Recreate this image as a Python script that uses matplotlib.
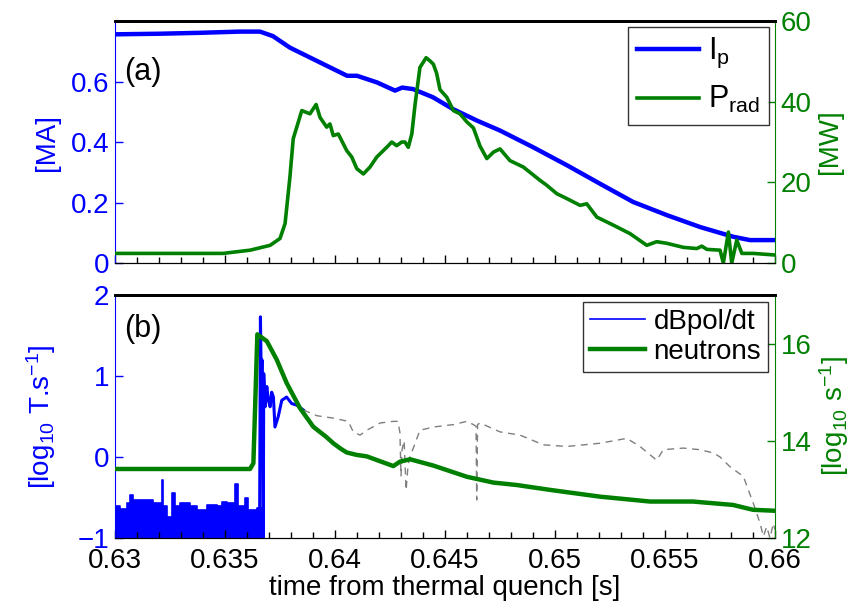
import numpy as np
import matplotlib.pyplot as plt
from matplotlib.lines import Line2D
from matplotlib.ticker import MultipleLocator

plt.rcParams['font.family'] = ['Liberation Sans', 'DejaVu Sans']
plt.rcParams['mathtext.fontset'] = 'custom'
plt.rcParams['mathtext.rm'] = 'Liberation Sans'
plt.rcParams['mathtext.default'] = 'regular'

BLUE = '#0000ff'
GREEN = '#008000'
GREY = '#7f7f7f'

# (a) plasma current [MA]
ip_t = [0.63, 0.63205, 0.63386, 0.63568, 0.63659, 0.63718, 0.63795, 0.63918,
        0.64055, 0.641, 0.64191, 0.64273, 0.64305, 0.64355, 0.64445, 0.64536,
        0.64645, 0.6475, 0.649, 0.65055, 0.65205, 0.65355, 0.6551, 0.6566,
        0.6581, 0.65886, 0.66]
ip_val = [0.756, 0.758, 0.761, 0.765, 0.765, 0.750, 0.712, 0.668,
          0.619, 0.619, 0.597, 0.570, 0.580, 0.575, 0.548, 0.509,
          0.471, 0.438, 0.383, 0.323, 0.262, 0.202, 0.158, 0.119,
          0.087, 0.076, 0.076]

# (a) radiated power [MW]
prad_t = [0.63008, 0.63491, 0.63614, 0.63705, 0.6375, 0.63773, 0.63795, 0.6381,
          0.63849, 0.63886, 0.63914, 0.63932, 0.63962, 0.63977, 0.63992, 0.64015,
          0.64053, 0.64076, 0.64099, 0.64129, 0.64159, 0.6419, 0.64235, 0.64258,
          0.6428, 0.64303, 0.64318, 0.64333, 0.64349, 0.64364, 0.64386, 0.64414,
          0.64432, 0.64447, 0.64462, 0.64477, 0.64508, 0.64538, 0.64568, 0.64599,
          0.64629, 0.64659, 0.6469, 0.6472, 0.6475, 0.64795, 0.64856, 0.64932,
          0.64962, 0.65008, 0.65053, 0.65114, 0.65144, 0.6519, 0.65265, 0.65341,
          0.65417, 0.65462, 0.65508, 0.65583, 0.65644, 0.65667, 0.6569, 0.6575,
          0.65765, 0.65788, 0.65803, 0.65826, 0.65849, 0.65901, 0.66]
prad_val = [2.4, 2.4, 3.2, 4.4, 6.1, 9.8, 21.3, 30.8,
            37.8, 37.0, 39.3, 36.1, 33.7, 34.5, 31.6, 32.0,
            27.9, 26.3, 23.4, 22.1, 23.8, 26.3, 28.7, 30.0,
            29.1, 30.0, 30.0, 28.7, 32.0, 39.4, 48.5, 50.9,
            50.1, 49.3, 47.0, 43.0, 41.1, 37.8, 37.0, 35.0,
            33.5, 29.0, 25.9, 27.5, 28.3, 25.4, 23.8, 20.5,
            19.3, 17.2, 16.0, 14.3, 14.7, 11.4, 9.4, 7.3,
            4.4, 5.3, 4.9, 3.9, 3.6, 4.2, 3.4, 3.2,
            0.0, 7.7, 0.0, 5.7, 2.4, 2.4, 2.0]

# (b) dBpol/dt pre-quench noise band (upper envelope) [log10 T/s]
noise_t = [0.63, 0.63023, 0.63053, 0.63068, 0.63083, 0.63129, 0.63174, 0.63207,
           0.63212, 0.6322, 0.63235, 0.63258, 0.63273, 0.63295, 0.63341, 0.63371,
           0.63417, 0.63462, 0.63485, 0.63508, 0.63539, 0.63545, 0.6356, 0.63591,
           0.63606, 0.63644, 0.63674]
noise_top = [-0.61, -0.64, -0.57, -0.47, -0.53, -0.53, -0.57, -0.57,
             -0.28, -0.61, -0.74, -0.45, -0.61, -0.57, -0.61, -0.65,
             -0.59, -0.61, -0.55, -0.57, -0.57, -0.33, -0.61, -0.51,
             -0.65, -0.63, -0.63]

# (b) dBpol/dt spike and oscillation
dbp_t = [0.63657, 0.63661, 0.63665, 0.63668, 0.63671, 0.63674, 0.63676, 0.63682,
         0.6369, 0.63697, 0.63705, 0.63712, 0.6372, 0.63727, 0.63742, 0.63758,
         0.6378, 0.63803, 0.63826, 0.63856]
dbp_val = [-1.0, 1.73, 0.9, 1.2, 0.75, -1.0, 1.03, 0.62,
           0.87, 0.70, 0.62, 0.80, 0.74, 0.37, 0.50, 0.70,
           0.74, 0.66, 0.64, 0.58]

# (b) dBpol/dt continuation (grey dashed)
grey_t = [0.63856, 0.63917, 0.63992, 0.6406, 0.64083, 0.64114, 0.64144, 0.64205,
          0.64265, 0.64286, 0.64295, 0.643, 0.64305, 0.64314, 0.64323, 0.64332,
          0.64341, 0.64364, 0.64386, 0.64447, 0.64538, 0.64599, 0.64629, 0.64641,
          0.64644, 0.64648, 0.64659, 0.6475, 0.64841, 0.64947, 0.65053, 0.65205,
          0.65326, 0.65386, 0.65462, 0.65492, 0.65583, 0.65659, 0.6572, 0.6575,
          0.65795, 0.65856, 0.65879, 0.65901, 0.65932, 0.65947, 0.65962, 0.65977,
          0.65992, 0.66]
grey_val = [0.58, 0.51, 0.48, 0.44, 0.31, 0.27, 0.33, 0.42,
            0.44, 0.44, 0.30, -0.24, 0.10, 0.20, -0.41, -0.10,
            0.00, 0.17, 0.33, 0.37, 0.40, 0.44, 0.40, 0.38,
            -0.53, 0.40, 0.42, 0.31, 0.27, 0.15, 0.13, 0.17,
            0.23, 0.13, -0.04, 0.09, 0.11, 0.09, 0.05, 0.00,
            -0.12, -0.24, -0.41, -0.57, -0.82, -0.98, -0.86, -1.0,
            -0.82, -0.9]

# (b) neutron rate [log10 1/s]
neut_t = [0.63008, 0.63614, 0.63629, 0.63647, 0.6369, 0.63735, 0.6378, 0.63841,
          0.63901, 0.6396, 0.63992, 0.64025, 0.64053, 0.64098, 0.64144, 0.64265,
          0.64295, 0.64341, 0.64447, 0.64599, 0.6472, 0.64826, 0.64977, 0.65205,
          0.65432, 0.65627, 0.65809, 0.659, 0.66]
neut_val = [13.42, 13.42, 13.54, 16.19, 16.05, 15.67, 15.19, 14.67,
            14.29, 14.08, 13.95, 13.84, 13.76, 13.71, 13.68, 13.48,
            13.57, 13.62, 13.49, 13.26, 13.14, 13.09, 12.99, 12.85,
            12.75, 12.75, 12.68, 12.58, 12.56]

FS = 20

fig = plt.figure(figsize=(8.55, 6.09), dpi=100)
ax1 = fig.add_axes([0.1345, 0.568, 0.772, 0.3975])
ax2 = fig.add_axes([0.1345, 0.1166, 0.772, 0.399])
ax1r = ax1.twinx()
ax2r = ax2.twinx()


def style(ax, axr, lcol, rcol):
    ax.set_xlim(0.63, 0.66)
    ax.xaxis.set_major_locator(MultipleLocator(0.005))
    ax.xaxis.set_minor_locator(MultipleLocator(0.001))
    ax.tick_params(axis='x', which='major', direction='in', length=6, width=1,
                   labelsize=FS, top=False, pad=7)
    ax.tick_params(axis='x', which='minor', direction='in', length=4, width=1, top=False)
    ax.tick_params(axis='y', direction='in', length=6, width=1, colors=lcol,
                   labelsize=FS, pad=4)
    axr.tick_params(axis='y', direction='in', length=6, width=1, colors=rcol,
                    labelsize=FS, pad=4)
    ax.spines['left'].set_color(lcol)
    ax.spines['right'].set_visible(False)
    axr.spines['left'].set_visible(False)
    axr.spines['right'].set_color(rcol)
    axr.spines['top'].set_linewidth(2)
    ax.spines['top'].set_linewidth(2)


style(ax1, ax1r, BLUE, GREEN)
style(ax2, ax2r, BLUE, GREEN)

# (a)
ax1.plot(ip_t, ip_val, color=BLUE, lw=3.2)
ax1r.plot(prad_t, prad_val, color=GREEN, lw=2.6)
ax1.set_ylim(0, 0.8)
ax1.set_yticks([0, 0.2, 0.4, 0.6])
ax1.set_yticklabels(['0', '0.2', '0.4', '0.6'])
ax1r.set_ylim(0, 60)
ax1r.set_yticks([0, 20, 40, 60])
ax1.tick_params(axis='x', labelbottom=False)
ax1.set_ylabel('[MA]', color=BLUE, fontsize=FS, labelpad=8)
ax1r.set_ylabel('[MW]', color=GREEN, fontsize=FS, labelpad=4)
ax1.text(0.014, 0.79, '(a)', transform=ax1.transAxes, fontsize=22, va='center')

h1 = [Line2D([], [], color=BLUE, lw=3.2), Line2D([], [], color=GREEN, lw=2.6)]
leg1 = ax1r.legend(h1, ['I$_p$', 'P$_{rad}$'], loc='upper right', fontsize=22,
                   frameon=True, fancybox=False, edgecolor='black',
                   handlelength=2.0, handletextpad=0.3, borderpad=0.3,
                   labelspacing=0.45, borderaxespad=0.2)
leg1.get_frame().set_linewidth(1)

# (b)
ax2.fill_between(noise_t, -1, noise_top, step='post', color=BLUE, lw=0)
ax2.step(noise_t, noise_top, where='post', color=BLUE, lw=1.2)
ax2.plot(dbp_t, dbp_val, color=BLUE, lw=2.2)
ax2.plot(grey_t, grey_val, color=GREY, lw=1, dashes=(5, 4))
ax2r.plot(neut_t, neut_val, color=GREEN, lw=3.2)
ax2.set_ylim(-1, 2)
ax2.set_yticks([-1, 0, 1, 2])
ax2.set_yticklabels(['\u22121', '0', '1', '2'])
ax2r.set_ylim(12, 17)
ax2r.set_yticks([12, 14, 16])
ax2.set_xticks([0.63, 0.635, 0.64, 0.645, 0.65, 0.655, 0.66])
ax2.set_xticklabels(['0.63', '0.635', '0.64', '0.645', '0.65', '0.655', '0.66'])
ax2.set_xlabel('time from thermal quench [s]', fontsize=FS, labelpad=1)
ax2.set_ylabel('[log$_{10}$ T.s$^{-1}$]', color=BLUE, fontsize=FS, labelpad=14)
ax2r.set_ylabel('[log$_{10}$ s$^{-1}$]', color=GREEN, fontsize=FS, labelpad=4)
ax2.text(0.014, 0.86, '(b)', transform=ax2.transAxes, fontsize=22, va='center')

h2 = [Line2D([], [], color=BLUE, lw=1.2), Line2D([], [], color=GREEN, lw=3.2)]
leg2 = ax2r.legend(h2, ['dBpol/dt', 'neutrons'], loc='upper right', fontsize=FS,
                   frameon=True, fancybox=False, edgecolor='black',
                   handlelength=2.0, handletextpad=0.3, borderpad=0.25,
                   labelspacing=0.15, borderaxespad=0.25)
leg2.get_frame().set_linewidth(1)

fig.savefig('out.png', dpi=100)
